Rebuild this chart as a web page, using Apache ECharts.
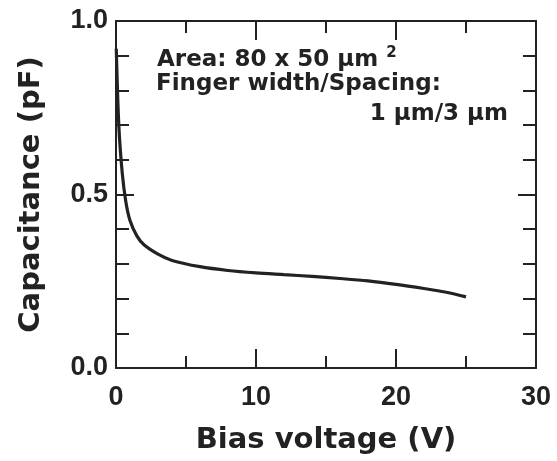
<!DOCTYPE html>
<html>
<head>
<meta charset="utf-8">
<script src="https://cdn.jsdelivr.net/npm/echarts@6/dist/echarts.min.js"></script>
<style>
  html, body { margin: 0; padding: 0; background: #fff; }
  #chart { width: 557px; height: 461px; }
</style>
</head>
<body>
<div id="chart"></div>
<script>
// bias voltage (V) and capacitance (pF)
var biasV = [0.02, 0.2, 0.45, 0.7, 1.0, 1.5, 2.0, 3.0, 4.0, 6.0, 8.0, 10, 12, 14, 16, 18, 20, 22, 23.5, 25];
var capPF = [0.92, 0.70, 0.56, 0.48, 0.425, 0.38, 0.355, 0.328, 0.31, 0.292, 0.281, 0.274, 0.269, 0.264, 0.258, 0.251, 0.241, 0.229, 0.219, 0.205];

var xTicks = [0, 10, 20, 30];

var curve = [];
for (var i = 0; i < biasV.length; i++) {
    curve.push([biasV[i], capPF[i]]);
}

var ink = '#222';
var numFont = 'Liberation Sans, Arial, Helvetica, sans-serif';
var txtFont = 'DejaVu Sans, Verdana, sans-serif';

var chart = echarts.init(document.getElementById('chart'));

//坐标轴公共样式 (框线+内刻度)
function axisBase(extra) {
    var a = {
        axisLine: { show: true, onZero: false, lineStyle: { color: ink, width: 2 } },
        axisTick: { show: true, inside: true, length: 19, lineStyle: { color: ink, width: 2 } },
        splitLine: { show: false },
        minorSplitLine: { show: false }
    };
    for (var k in extra) a[k] = extra[k];
    return a;
}

var xMinor = { show: true, splitNumber: 2, length: 12, lineStyle: { color: ink, width: 2 } };
var yMinor = { show: true, splitNumber: 5, length: 13, lineStyle: { color: ink, width: 2 } };
var yTick = { show: true, inside: true, length: 18, lineStyle: { color: ink, width: 2 } };

var option = {
    animation: false,
    backgroundColor: '#fff',
    grid: { left: 116, right: 21, top: 21, bottom: 93 },
    xAxis: [
        axisBase({
            type: 'value', min: 0, max: 30, interval: 10, position: 'bottom',
            minorTick: xMinor,
            axisLabel: {
                color: ink, fontFamily: numFont, fontWeight: 'bold', fontSize: 27, margin: 16,
                formatter: function (v) { return xTicks.indexOf(v) >= 0 ? String(v) : ''; }
            },
            name: 'Bias voltage (V)', nameLocation: 'middle', nameGap: 58,
            nameTextStyle: { color: ink, fontFamily: txtFont, fontWeight: 'bold', fontSize: 29 }
        }),
        axisBase({
            type: 'value', min: 0, max: 30, interval: 10, position: 'top',
            minorTick: xMinor,
            axisLabel: { show: false }
        })
    ],
    yAxis: [
        axisBase({
            type: 'value', min: 0, max: 1, interval: 0.5, position: 'left',
            axisTick: yTick,
            minorTick: yMinor,
            axisLabel: {
                color: ink, fontFamily: numFont, fontWeight: 'bold', fontSize: 27, margin: 8,
                formatter: function (v) { return v.toFixed(1); }
            },
            name: 'Capacitance (pF)', nameLocation: 'middle', nameGap: 70,
            nameTextStyle: { color: ink, fontFamily: txtFont, fontWeight: 'bold', fontSize: 29 }
        }),
        axisBase({
            type: 'value', min: 0, max: 1, interval: 0.5, position: 'right',
            axisTick: yTick,
            minorTick: yMinor,
            axisLabel: { show: false }
        })
    ],
    graphic: [
        {
            type: 'text', left: 157, top: 46,
            style: {
                text: '{t|Area: 80 x 50 μm }{s|2}',
                rich: {
                    t: { fontFamily: txtFont, fontWeight: 'bold', fontSize: 23, fill: ink, verticalAlign: 'bottom' },
                    s: { fontFamily: txtFont, fontWeight: 'bold', fontSize: 15, fill: ink, verticalAlign: 'top', padding: [0, 0, 11, 0] }
                }
            }
        },
        {
            type: 'text', left: 156, top: 73,
            style: { text: 'Finger width/Spacing:', fontFamily: txtFont, fontWeight: 'bold', fontSize: 23, fill: ink }
        },
        {
            type: 'text', right: 49, top: 103,
            style: { text: '1 μm/3 μm', fontFamily: txtFont, fontWeight: 'bold', fontSize: 23, fill: ink }
        }
    ],
    series: [{
        type: 'line',
        data: curve,
        smooth: 0.3,
        showSymbol: false,
        lineStyle: { color: ink, width: 3.2 }
    }]
};

chart.setOption(option);
</script>
</body>
</html>
